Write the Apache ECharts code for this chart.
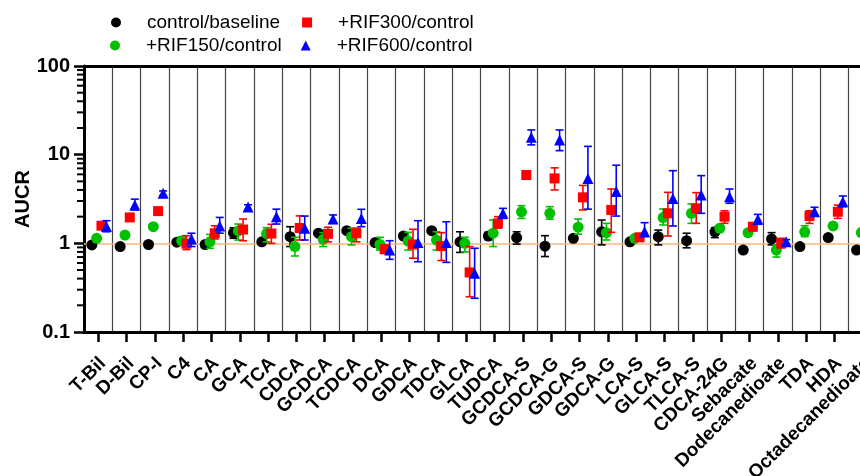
<!DOCTYPE html>
<html>
<head>
<meta charset="utf-8">
<script src="https://cdn.jsdelivr.net/npm/echarts@6/dist/echarts.min.js"></script>
<style>
  html, body { margin: 0; padding: 0; background: #fff; }
  #main { width: 860px; height: 476px; }
</style>
</head>
<body>
<div id="main"></div>
<script>
// categories along the x axis
const categories = ['T-Bil', 'D-Bil', 'CP-I', 'C4', 'CA', 'GCA', 'TCA', 'CDCA', 'GCDCA', 'TCDCA',
  'DCA', 'GDCA', 'TDCA', 'GLCA', 'TUDCA', 'GCDCA-S', 'GCDCA-G', 'GDCA-S', 'GDCA-G', 'LCA-S',
  'GLCA-S', 'TLCA-S', 'CDCA-24G', 'Sebacate', 'Dodecanedioate', 'TDA', 'HDA', 'Octadecanedioate'];

// control/baseline
const baseMean = [0.96, 0.92, 0.97, 1.03, 0.97, 1.31, 1.04, 1.19, 1.30, 1.39, 1.02, 1.21, 1.39, 1.04, 1.21, 1.16, 0.93, 1.14, 1.35, 1.04, 1.19, 1.07, 1.35, 0.84, 1.12, 0.92, 1.16, 0.84];
const baseLow  = [0.93, 0.89, 0.94, 0.98, 0.92, 1.14, 0.98, 0.92, 1.24, 1.33, 0.97, 1.15, 1.33, 0.79, 1.10, 0.98, 0.71, 1.07, 0.96, 1.00, 0.96, 0.89, 1.16, 0.81, 0.96, 0.88, 1.11, 0.80];
const baseHigh = [0.99, 0.95, 1.00, 1.08, 1.03, 1.50, 1.10, 1.54, 1.36, 1.45, 1.07, 1.27, 1.45, 1.35, 1.33, 1.35, 1.22, 1.22, 1.83, 1.08, 1.41, 1.30, 1.50, 0.87, 1.32, 0.96, 1.21, 0.88];

// +RIF150/control
const rif150Mean = [1.14, 1.24, 1.54, 1.07, 1.04, 1.38, 1.29, 0.92, 1.11, 1.19, 0.97, 1.06, 1.09, 1.00, 1.30, 2.27, 2.18, 1.52, 1.32, 1.14, 1.95, 2.18, 1.48, 1.32, 0.84, 1.35, 1.57, 1.32];
const rif150Low  = [1.09, 1.16, 1.49, 0.97, 0.88, 1.09, 1.04, 0.72, 0.92, 0.96, 0.84, 0.84, 0.84, 0.80, 0.92, 1.91, 1.87, 1.27, 1.09, 1.09, 1.61, 1.68, 1.40, 1.25, 0.70, 1.19, 1.47, 1.22];
const rif150High = [1.19, 1.32, 1.59, 1.18, 1.26, 1.65, 1.50, 1.17, 1.32, 1.48, 1.17, 1.33, 1.35, 1.17, 1.83, 2.66, 2.59, 1.88, 1.68, 1.19, 2.44, 2.78, 1.56, 1.40, 0.96, 1.58, 1.68, 1.42];

// +RIF300/control
const rif300Mean = [1.58, 1.96, 2.31, 0.99, 1.30, 1.43, 1.29, 1.49, 1.28, 1.30, 0.86, 0.97, 0.93, 0.47, 1.68, 5.9, 5.4, 3.3, 2.38, 1.17, 2.18, 2.48, 2.00, 1.54, 1.00, 2.03, 2.27, 1.75];
const rif300Low  = [1.50, 1.88, 2.22, 0.85, 1.12, 1.07, 1.00, 1.09, 1.04, 1.04, 0.77, 0.68, 0.64, 0.25, 1.48, 5.7, 4.0, 2.38, 1.33, 1.10, 1.21, 1.68, 1.68, 1.38, 0.89, 1.68, 1.91, 1.50];
const rif300High = [1.66, 2.04, 2.40, 1.22, 1.58, 1.88, 1.64, 2.04, 1.52, 1.48, 0.96, 1.44, 1.32, 0.92, 2.00, 6.1, 7.1, 4.5, 4.1, 1.24, 3.76, 3.73, 2.33, 1.70, 1.14, 2.33, 2.70, 2.00];

// +RIF600/control
const rif600Mean = [1.55, 2.7, 3.66, 1.12, 1.57, 2.57, 2.00, 1.48, 1.88, 1.91, 0.84, 1.02, 1.02, 0.46, 2.18, 15.7, 14.6, 5.4, 3.83, 1.35, 3.2, 3.5, 3.36, 1.87, 1.04, 2.27, 2.95, 2.2];
const rif600Low  = [1.35, 2.38, 3.45, 0.92, 1.30, 2.40, 1.65, 1.09, 1.68, 1.54, 0.66, 0.62, 0.61, 0.24, 1.91, 12.9, 11.1, 2.43, 2.03, 1.19, 1.57, 2.18, 2.83, 1.64, 0.98, 2.09, 2.59, 1.9];
const rif600High = [1.80, 3.15, 3.90, 1.30, 1.96, 2.72, 2.43, 2.03, 2.09, 2.42, 1.07, 1.80, 1.75, 0.88, 2.48, 19.0, 19.0, 12.4, 7.6, 1.71, 6.6, 5.8, 4.1, 2.12, 1.10, 2.55, 3.42, 2.5];

// minor ticks of the log y axis
const minorTicks = [0.2, 0.3, 0.4, 0.5, 0.6, 0.7, 0.8, 0.9, 2, 3, 4, 5, 6, 7, 8, 9, 20, 30, 40, 50, 60, 70, 80, 90];

const FONT = '"Liberation Sans", Arial, sans-serif';

const groups = [
  { name: 'control/baseline', color: '#000000', symbol: 'circle', size: 11, offset: -6.3, mean: baseMean, low: baseLow, high: baseHigh },
  { name: '+RIF150/control', color: '#00c000', symbol: 'circle', size: 11, offset: -1.5, mean: rif150Mean, low: rif150Low, high: rif150High },
  { name: '+RIF300/control', color: '#ff0000', symbol: 'rect', size: 10, offset: 3.3, mean: rif300Mean, low: rif300Low, high: rif300High },
  { name: '+RIF600/control', color: '#0000ff', symbol: 'triangle', size: 11, offset: 8.3, mean: rif600Mean, low: rif600Low, high: rif600High }
];

function errorBar(offset, color) {
  return function (params, api) {
    const i = api.value(0);
    const lo = api.coord([i, api.value(1)]);
    const hi = api.coord([i, api.value(2)]);
    const x = lo[0] + offset;
    const cap = 4;
    const style = { stroke: color, lineWidth: 1.6 };
    return {
      type: 'group',
      children: [
        { type: 'line', shape: { x1: x, y1: lo[1], x2: x, y2: hi[1] }, style: style },
        { type: 'line', shape: { x1: x - cap, y1: lo[1], x2: x + cap, y2: lo[1] }, style: style },
        { type: 'line', shape: { x1: x - cap, y1: hi[1], x2: x + cap, y2: hi[1] }, style: style }
      ]
    };
  };
}

const series = [];

series.push({
  type: 'custom',
  name: 'minorTicks',
  silent: true,
  clip: false,
  data: minorTicks.map(v => [0, v]),
  encode: { x: 0, y: 1 },
  renderItem: function (params, api) {
    const y = api.coord([0, api.value(1)])[1];
    const x0 = params.coordSys.x;
    return {
      type: 'line',
      shape: { x1: x0 - 7, y1: y, x2: x0, y2: y },
      style: { stroke: '#000', lineWidth: 2 }
    };
  }
});

groups.forEach((g, gi) => {
  series.push({
    type: 'custom',
    name: 'err' + gi,
    silent: true,
    z: 2 + gi * 2,
    data: categories.map((c, i) => [i, g.low[i], g.high[i]]),
    encode: { x: 0, y: [1, 2] },
    renderItem: errorBar(g.offset, g.color)
  });
  const s = {
    type: 'scatter',
    name: g.name,
    z: 3 + gi * 2,
    symbol: g.symbol,
    symbolSize: g.size,
    symbolOffset: [g.offset, 0],
    itemStyle: { color: g.color, opacity: 1 },
    data: categories.map((c, i) => [i, g.mean[i]])
  };
  if (gi === 0) {
    s.markLine = {
      silent: true,
      symbol: 'none',
      z: 1,
      label: { show: false },
      lineStyle: { color: '#f8b77c', width: 1.5, type: 'solid' },
      data: [{ yAxis: 1 }]
    };
  }
  series.push(s);
});

const legendCommon = {
  orient: 'horizontal',
  itemWidth: 10,
  itemHeight: 10,
  selectedMode: false,
  textStyle: { fontSize: 19, fontFamily: FONT, color: '#000', padding: [0, 0, 0, 21] }
};

const chart = echarts.init(document.getElementById('main'), null, { renderer: 'canvas' });
chart.setOption({
  animation: false,
  backgroundColor: '#fff',
  legend: [
    Object.assign({}, legendCommon, {
      left: 106, top: 8, itemGap: 22,
      data: [{ name: 'control/baseline', icon: 'circle' }, { name: '+RIF300/control', icon: 'rect' }]
    }),
    Object.assign({}, legendCommon, {
      left: 105, top: 31, itemGap: 19,
      data: [{ name: '+RIF150/control', icon: 'circle' }, { name: '+RIF600/control', icon: 'triangle' }]
    })
  ],
  grid: { left: 84, right: -17, top: 66, bottom: 144, containLabel: false, outerBoundsMode: 'none' },
  xAxis: [{
    type: 'category',
    data: categories,
    boundaryGap: true,
    axisLine: { show: true, onZero: false, lineStyle: { color: '#000', width: 3 } },
    axisTick: { show: true, alignWithLabel: true, length: 10, lineStyle: { color: '#000', width: 2.5 } },
    axisLabel: {
      interval: 0, rotate: 45, color: '#000', fontSize: 19, fontWeight: 'bold', fontFamily: FONT,
      margin: 17, verticalAlign: 'top', padding: [2, 5, 0, 0]
    },
    splitLine: { show: true, interval: 0, lineStyle: { color: '#444', width: 1.2 } }
  }, {
    type: 'category',
    position: 'top',
    data: categories,
    axisLine: { show: true, onZero: false, lineStyle: { color: '#000', width: 3 } },
    axisTick: { show: false },
    axisLabel: { show: false },
    splitLine: { show: false }
  }],
  yAxis: {
    type: 'log',
    logBase: 10,
    min: 0.1,
    max: 100,
    name: 'AUCR',
    nameLocation: 'middle',
    nameGap: 51,
    nameMoveOverlap: false,
    nameTextStyle: { fontSize: 20, fontWeight: 'bold', color: '#000', fontFamily: FONT },
    axisLine: { show: true, lineStyle: { color: '#000', width: 3 } },
    axisTick: { show: true, length: 10, lineStyle: { color: '#000', width: 2.5 } },
    axisLabel: {
      color: '#000', fontSize: 20, fontWeight: 'bold', fontFamily: FONT, margin: 14,
      formatter: v => String(+(+v).toPrecision(3))
    },
    splitLine: { show: false }
  },
  series: series
});
</script>
</body>
</html>
